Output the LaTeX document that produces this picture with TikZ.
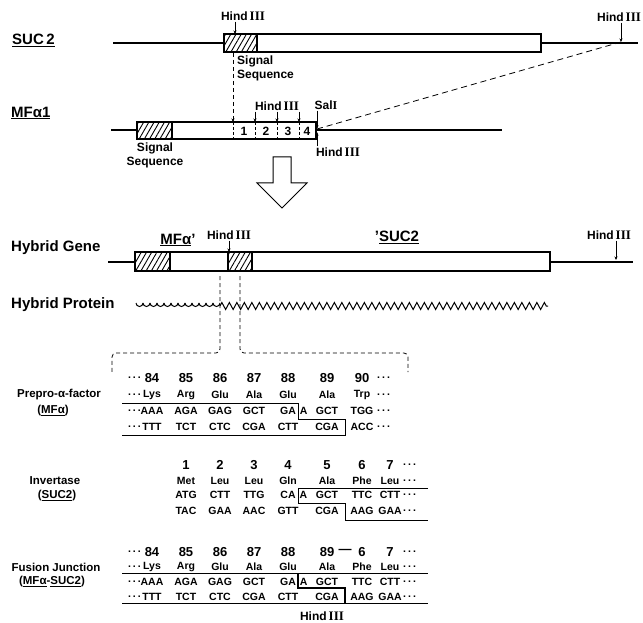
\documentclass[tikz,border=0pt]{standalone}
\usepackage{fontspec}
\setmainfont{Liberation Sans}
\newfontfamily\romanfont{Liberation Serif}
\usetikzlibrary{arrows.meta,patterns.meta,decorations.pathmorphing}

\newcommand{\hind}{Hind\,{\romanfont\bfseries\fontsize{13}{13}\selectfont III}}
\newcommand{\und}[1]{\underline{#1}}
\newcommand{\dts}{.\kern2pt.\kern2pt.}

\begin{document}
\begin{tikzpicture}[
    x=1pt,y=-1pt,
    dna/.style={line width=2.4pt},
    gene/.style={draw,line width=1.1pt,fill=white},
    hatch/.style={draw,line width=1.1pt,pattern={Lines[angle=60,distance=4.5pt,line width=0.9pt]}},
    arrow/.style={-{Stealth[length=3.5pt,width=3pt]},line width=0.7pt},
    guide/.style={line width=0.8pt,dash pattern=on 4pt off 3pt},
    site/.style={font=\bfseries\fontsize{12}{14}\selectfont,inner sep=0pt},
    tag/.style={font=\bfseries\fontsize{15}{17}\selectfont,inner sep=0pt},
    side/.style={font=\bfseries\fontsize{11.5}{13}\selectfont,inner sep=0pt},
    num/.style={font=\bfseries\fontsize{13}{14}\selectfont,inner sep=0pt},
    seq/.style={font=\bfseries\fontsize{10.5}{12}\selectfont,inner sep=0pt},
    frag/.style={line width=0.8pt}
]
    \useasboundingbox (0,0) rectangle (643,623);

    % SUC2
    \node[tag,anchor=west] (suc) at (12,40) {\und{SUC\,2}};
    \draw[dna] (113,43) -- (224,43);
    \draw[dna] (541,43) -- (638,43);
    \draw[gene] (224,34) rectangle (541,52);
    \draw[hatch] (224,34) rectangle (257,52);
    \node[site] (h1) at (243,16) {\hind};
    \coordinate (h1c) at (235,34);
    \draw[arrow] ([yshift=-1pt]h1.south -| h1c) -- (h1c);
    \node[site] (h2) at (619,17) {\hind};
    \coordinate (h2c) at (621,42);
    \draw[arrow] ([yshift=-1pt]h2.south -| h2c) -- (h2c);
    \node[site,anchor=north west,align=left] (sig1) at (237,56) {Signal\\Sequence};

    % MFalpha1
    \node[tag,anchor=west] (mfa) at (11,113) {\und{MFα1}};
    \draw[dna] (111,130) -- (137,130);
    \draw[dna] (316,130) -- (502,130);
    \draw[gene] (137,122) rectangle (316,139);
    \draw[hatch] (137,122) rectangle (172,139);
    \foreach \x in {233,255,277,299}
        \draw[guide,dash pattern=on 3pt off 2pt] (\x,122) -- (\x,139);
    \foreach \x/\t in {244/1,266/2,288/3,307/4}
        \node[site] (seg\t) at (\x,131) {\t};
    \coordinate (k1) at (233,122);
    \draw[guide,-{Stealth[length=3.5pt,width=3pt]}] (233,53) -- (k1);
    \node[site] (h3) at (277,106) {\hind};
    \foreach \x in {255,277,299}
        \draw[arrow] ([yshift=-1pt]h3.south -| \x,0) -- (\x,122);
    \node[site] (sal) at (326,105) {Sal{\romanfont I}};
    \coordinate (salc) at (317,129);
    \draw[arrow] ([yshift=-1pt]sal.south -| salc) -- (salc);
    \node[site] (h4) at (338,152) {\hind};
    \coordinate (h4c) at (317,132);
    \draw[arrow] ([yshift=1pt]h4.north -| h4c) -- (h4c);
    \draw[guide,dash pattern=on 6pt off 4pt] (salc) -- (h2c);
    \node[site,align=center] (sig2) at (155,155) {Signal\\Sequence};

    % big arrow
    \draw[line width=1pt,fill=white] (273,157) -- (291,157) -- (291,183) -- (307,183)
        -- (282,208) -- (257,183) -- (273,183) -- cycle;

    % Hybrid gene
    \node[tag,anchor=west] (hg) at (11,248) {Hybrid Gene};
    \draw[dna] (108,262) -- (135,262);
    \draw[dna] (550,262) -- (633,262);
    \draw[gene] (135,252) rectangle (550,271);
    \draw[hatch] (135,252) rectangle (170,271);
    \draw[hatch] (228,252) rectangle (252,271);
    \node[tag] (mfp) at (178,240) {\und{MFα}'};
    \node[tag] (sucp) at (397,237) {'\und{SUC2}};
    \node[site] (h5) at (229,235) {\hind};
    \coordinate (h5c) at (229,252);
    \draw[arrow] ([yshift=-1pt]h5.south -| h5c) -- (h5c);
    \node[site] (h6) at (609,235) {\hind};
    \coordinate (h6c) at (616,260);
    \draw[arrow] ([yshift=-1pt]h6.south -| h6c) -- (h6c);

    % Hybrid protein
    \node[tag,anchor=west] (hp) at (11,305) {Hybrid Protein};
    \foreach \i in {0,...,11}
        \draw[line width=1pt] (136+\i*7,303) arc (180:0:3.5);
    \draw[line width=1pt,decorate,decoration={zigzag,segment length=7.5pt,amplitude=3.5pt}]
        (220,306) -- (548,306);
    \draw[guide,rounded corners=4pt] (220,276) -- (220,353) -- (112,353) -- (112,374);
    \draw[guide,rounded corners=4pt] (240,276) -- (240,353) -- (408,353) -- (408,372);

    % Prepro-alpha-factor
    \node[side] (pp) at (59,395) {Prepro-α-factor};
    \node[side] (ppm) at (53,411) {(\und{MFα})};
    \foreach \x/\n/\a/\c/\d in {152/84/Lys/AAA/TTT,186/85/Arg/AGA/TCT,220/86/Glu/GAG/CTC,
        254/87/Ala/GCT/CGA,288/88/Glu/GA\rlap{\hspace{4pt}A}/CTT,327/89/Ala/GCT/CGA,362/90/Trp/TGG/ACC} {
        \node[num] (pn\n) at (\x,378) {\n};
        \node[seq] (pa\n) at (\x,395) {\a};
        \node[seq] (pc\n) at (\x,411) {\c};
        \node[seq] (pd\n) at (\x,427) {\d};
    }
    \foreach \y in {378,395,411,427} {
        \node[seq,anchor=east] (pl\y) at (141,\y) {\dts};
        \node[seq,anchor=west] (pr\y) at (377,\y) {\dts};
    }
    \draw[frag] (122,403) -| (298,419) -| (345,435) -- (122,435);

    % Invertase
    \node[side] (iv) at (55,481) {Invertase};
    \node[side] (ivs) at (57,496) {(\und{SUC2})};
    \foreach \x/\n/\a/\c/\d in {186/1/Met/ATG/TAC,220/2/Leu/CTT/GAA,254/3/Leu/TTG/AAC,
        288/4/Gln/CA\rlap{\hspace{4pt}A}/GTT,327/5/Ala/GCT/CGA,362/6/Phe/TTC/AAG,390/7/Leu/CTT/GAA} {
        \node[num] (in\n) at (\x,465) {\n};
        \node[seq] (ia\n) at (\x,481) {\a};
        \node[seq] (ic\n) at (\x,495) {\c};
        \node[seq] (id\n) at (\x,511) {\d};
    }
    \foreach \y/\t in {465/a,481/b,495/c,511/d}
        \node[seq,anchor=west] (ir\t) at (403,\y) {\dts};
    \draw[frag] (428,488) -| (298,503) -| (345,520) -- (428,520);

    % Fusion junction
    \node[side] (fj) at (56,567) {Fusion Junction};
    \node[side] (fjs) at (52,582) {(\und{MFα}-\und{SUC2})};
    \foreach \x/\n/\a/\c/\d in {152/84/Lys/AAA/TTT,186/85/Arg/AGA/TCT,220/86/Glu/GAG/CTC,
        254/87/Ala/GCT/CGA,288/88/Glu/GA\rlap{\hspace{4pt}A}/CTT,327/89/Ala/GCT/CGA,362/6/Phe/TTC/AAG,390/7/Leu/CTT/GAA} {
        \node[num] (fn\n) at (\x,552) {\n};
        \node[seq] (fa\n) at (\x,567) {\a};
        \node[seq] (fc\n) at (\x,582) {\c};
        \node[seq] (fd\n) at (\x,597) {\d};
    }
    \node[num] (fdash) at (345,551) {---};
    \foreach \y in {552,567,582,597} {
        \node[seq,anchor=east] (fl\y) at (141,\y) {\dts};
        \node[seq,anchor=west] (fr\y) at (403,\y) {\dts};
    }
    \draw[frag] (122,573) -- (428,573);
    \draw[frag] (122,603) -- (428,603);
    \draw[frag,line width=1.3pt] (298,573) |- (345,588) -- (345,603);
    \node[site] (h7) at (322,616) {\hind};
\end{tikzpicture}
\end{document}
